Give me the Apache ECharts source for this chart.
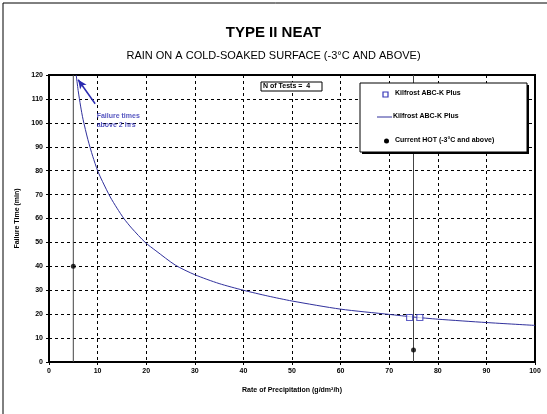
<!DOCTYPE html>
<html>
<head>
<meta charset="utf-8">
<script src="https://cdn.jsdelivr.net/npm/echarts@6/dist/echarts.min.js"></script>
<style>
  html, body { margin: 0; padding: 0; background: #fff; }
  #main { width: 547px; height: 414px; }
</style>
</head>
<body>
<div id="main"></div>
<script>
// 读图得到的数据
var curveX = [5.6, 6, 6.5, 7, 8, 9, 10, 11, 12.6, 14, 15.4, 17, 19.8, 22, 26, 30, 35, 40, 45, 50, 60, 70, 75, 80, 90, 100];
var curveY = [120, 113.5, 107, 101.5, 93, 86, 80, 75.5, 69, 64.3, 60, 56, 50, 46.5, 40.5, 36.5, 32.8, 30, 27.6, 25.5, 22.1, 19.9, 18.8, 17.9, 16.5, 15.3];
var kilfrostX = [74.2, 76.3];
var kilfrostY = [18.6, 18.6];
var hotX = [5, 75];
var hotY = [40, 5];
var limitX = [5, 75];
var arrowFrom = [9.5, 108];
var arrowTo = [6, 118];
var noteAt = [9.8, 101];

var font = 'Arial, "Liberation Sans", sans-serif';
var blue = '#30309c';

function pairs(xs, ys) {
    var out = [];
    for (var i = 0; i < xs.length; i++) out.push([xs[i], ys[i]]);
    return out;
}

var myChart = echarts.init(document.getElementById('main'));

var series = [
    {
        name: 'Kilfrost ABC-K Plus curve',
        type: 'line',
        data: pairs(curveX, curveY),
        smooth: 0.25,
        showSymbol: false,
        lineStyle: { color: blue, width: 1 },
        z: 3
    },
    {
        name: 'Kilfrost ABC-K Plus',
        type: 'scatter',
        data: pairs(kilfrostX, kilfrostY),
        symbol: 'rect',
        symbolSize: 6,
        itemStyle: { color: '#fff', borderColor: '#3838b8', borderWidth: 1.2 },
        z: 5
    },
    {
        name: 'Current HOT',
        type: 'scatter',
        data: pairs(hotX, hotY),
        symbol: 'circle',
        symbolSize: 5,
        itemStyle: { color: '#000' },
        z: 5
    },
    {
        name: 'note',
        type: 'scatter',
        data: [noteAt],
        symbolSize: 0,
        silent: true,
        label: {
            show: true,
            position: [0, 0],
            align: 'left',
            verticalAlign: 'middle',
            formatter: 'Failure times\nabove 2 hrs',
            color: '#2a2ab0',
            fontFamily: font,
            fontWeight: 'bold',
            fontSize: 7,
            lineHeight: 9
        },
        markLine: {
            silent: true,
            symbol: ['none', 'arrow'],
            symbolSize: [6, 9],
            label: { show: false },
            lineStyle: { color: '#2a2ab0', width: 1.5, type: 'solid' },
            data: [[{ coord: arrowFrom }, { coord: arrowTo }]]
        }
    }
];

// 两条竖线
limitX.forEach(function (x, i) {
    series.push({
        name: 'limit' + i,
        type: 'line',
        data: [[x, 0], [x, 120]],
        showSymbol: false,
        silent: true,
        lineStyle: { color: '#444', width: 1 },
        z: 2
    });
});

var axisLabel = { color: '#000', fontFamily: font, fontWeight: 'bold', fontSize: 7 };
var nameStyle = { color: '#000', fontFamily: font, fontWeight: 'bold', fontSize: 7 };

myChart.setOption({
    animation: false,
    title: [
        {
            text: 'TYPE II NEAT',
            left: 'center',
            top: 20,
            textStyle: { fontFamily: font, fontWeight: 'bold', fontSize: 15, color: '#000' }
        },
        {
            text: 'RAIN ON A COLD-SOAKED SURFACE (-3°C AND ABOVE)',
            left: 'center',
            top: 45,
            textStyle: { fontFamily: font, fontWeight: 'normal', fontSize: 11, color: '#000' }
        }
    ],
    grid: {
        left: 49, right: 12, top: 75, bottom: 52,
        show: true,
        borderColor: '#000',
        borderWidth: 2,
        backgroundColor: '#fff'
    },
    xAxis: {
        type: 'value',
        min: 0, max: 100, interval: 10,
        name: 'Rate of Precipitation (g/dm²/h)',
        nameLocation: 'middle',
        nameGap: 25,
        nameTextStyle: nameStyle,
        axisLine: { show: true, lineStyle: { color: '#000', width: 2 } },
        axisTick: { show: true, length: 3, lineStyle: { color: '#000' } },
        axisLabel: Object.assign({ margin: 6 }, axisLabel),
        splitLine: { show: true, lineStyle: { color: '#000', type: [3, 3], width: 1 } }
    },
    yAxis: {
        type: 'value',
        min: 0, max: 120, interval: 10,
        name: 'Failure Time (min)',
        nameLocation: 'middle',
        nameGap: 22,
        nameRotate: 90,
        nameTextStyle: nameStyle,
        axisLine: { show: true, lineStyle: { color: '#000', width: 2 } },
        axisTick: { show: true, length: 3, lineStyle: { color: '#000' } },
        axisLabel: Object.assign({ margin: 6 }, axisLabel),
        splitLine: { show: true, lineStyle: { color: '#000', type: [3, 3], width: 1 } }
    },
    series: series,
    graphic: [
        // 外框
        {
            type: 'rect',
            shape: { x: 3, y: 3, width: 560, height: 430 },
            style: { fill: 'none', stroke: '#000', lineWidth: 1 },
            silent: true,
            z: -10
        },
        // N of Tests
        {
            type: 'rect',
            shape: { x: 261, y: 82, width: 61, height: 9 },
            style: { fill: '#fff', stroke: '#000', lineWidth: 1 },
            z: 10
        },
        {
            type: 'text',
            left: 263, top: 83,
            style: { text: 'N of Tests =  4', font: 'bold 7px ' + font, fill: '#000' },
            z: 11
        },
        // 图例
        {
            type: 'rect',
            shape: { x: 362, y: 85, width: 167, height: 69 },
            style: { fill: '#000' },
            z: 10
        },
        {
            type: 'rect',
            shape: { x: 360, y: 83, width: 167, height: 69 },
            style: { fill: '#fff', stroke: '#000', lineWidth: 1 },
            z: 11
        },
        {
            type: 'rect',
            shape: { x: 383, y: 92, width: 5, height: 5 },
            style: { fill: '#fff', stroke: '#3838b8', lineWidth: 1.2 },
            z: 12
        },
        {
            type: 'text', left: 395, top: 90,
            style: { text: 'Kilfrost ABC-K Plus', font: 'bold 7px ' + font, fill: '#000' },
            z: 12
        },
        {
            type: 'line',
            shape: { x1: 377, y1: 117, x2: 392, y2: 117 },
            style: { stroke: blue, lineWidth: 1 },
            z: 12
        },
        {
            type: 'text', left: 393, top: 113,
            style: { text: 'Kilfrost ABC-K Plus', font: 'bold 7px ' + font, fill: '#000' },
            z: 12
        },
        {
            type: 'circle',
            shape: { cx: 386.5, cy: 141, r: 2.5 },
            style: { fill: '#000' },
            z: 12
        },
        {
            type: 'text', left: 395, top: 137,
            style: { text: 'Current HOT (-3°C and above)', font: 'bold 7px ' + font, fill: '#000' },
            z: 12
        }
    ]
});
</script>
</body>
</html>
